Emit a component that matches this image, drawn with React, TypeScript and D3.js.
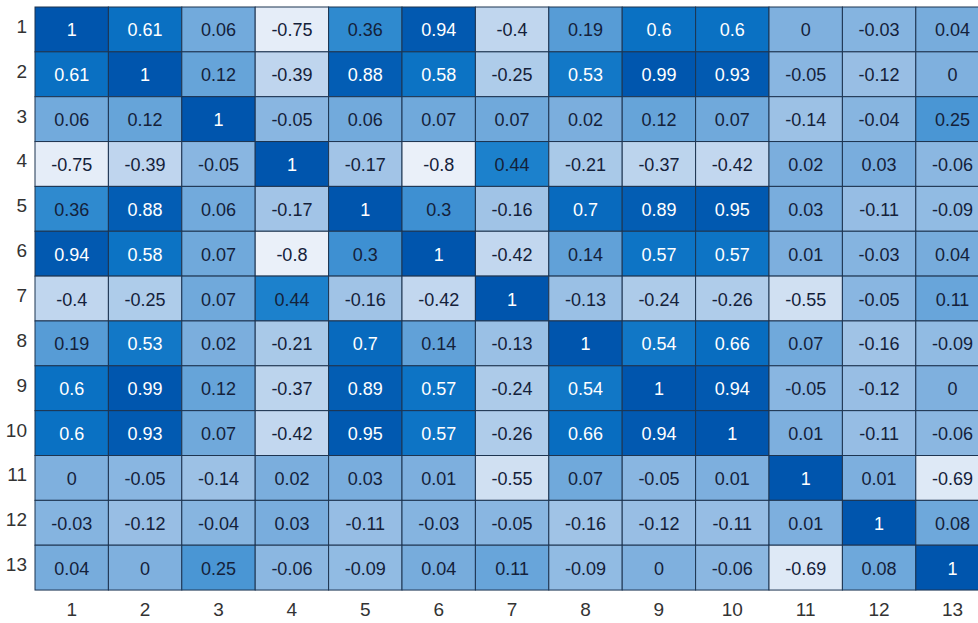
import React from "react";
import * as d3 from "d3";

const labels = ["1", "2", "3", "4", "5", "6", "7", "8", "9", "10", "11", "12", "13"];

const r1 = [1, 0.61, 0.06, -0.75, 0.36, 0.94, -0.4, 0.19, 0.6, 0.6, 0, -0.03, 0.04];
const r2 = [0.61, 1, 0.12, -0.39, 0.88, 0.58, -0.25, 0.53, 0.99, 0.93, -0.05, -0.12, 0];
const r3 = [0.06, 0.12, 1, -0.05, 0.06, 0.07, 0.07, 0.02, 0.12, 0.07, -0.14, -0.04, 0.25];
const r4 = [-0.75, -0.39, -0.05, 1, -0.17, -0.8, 0.44, -0.21, -0.37, -0.42, 0.02, 0.03, -0.06];
const r5 = [0.36, 0.88, 0.06, -0.17, 1, 0.3, -0.16, 0.7, 0.89, 0.95, 0.03, -0.11, -0.09];
const r6 = [0.94, 0.58, 0.07, -0.8, 0.3, 1, -0.42, 0.14, 0.57, 0.57, 0.01, -0.03, 0.04];
const r7 = [-0.4, -0.25, 0.07, 0.44, -0.16, -0.42, 1, -0.13, -0.24, -0.26, -0.55, -0.05, 0.11];
const r8 = [0.19, 0.53, 0.02, -0.21, 0.7, 0.14, -0.13, 1, 0.54, 0.66, 0.07, -0.16, -0.09];
const r9 = [0.6, 0.99, 0.12, -0.37, 0.89, 0.57, -0.24, 0.54, 1, 0.94, -0.05, -0.12, 0];
const r10 = [0.6, 0.93, 0.07, -0.42, 0.95, 0.57, -0.26, 0.66, 0.94, 1, 0.01, -0.11, -0.06];
const r11 = [0, -0.05, -0.14, 0.02, 0.03, 0.01, -0.55, 0.07, -0.05, 0.01, 1, 0.01, -0.69];
const r12 = [-0.03, -0.12, -0.04, 0.03, -0.11, -0.03, -0.05, -0.16, -0.12, -0.11, 0.01, 1, 0.08];
const r13 = [0.04, 0, 0.25, -0.06, -0.09, 0.04, 0.11, -0.09, 0, -0.06, -0.69, 0.08, 1];

const matrix = [r1, r2, r3, r4, r5, r6, r7, r8, r9, r10, r11, r12, r13];

const colorStops = [-0.8, -0.4, -0.2, 0, 0.25, 0.44, 0.6, 1];
const colorValues = ["#eaf0f9", "#c0d6ee", "#a8c8e8", "#7fb0de", "#4a96d4", "#1c81cc", "#0a71c3", "#0055ad"];

export default function App() {
  const width = 978;
  const height = 623;
  const margin = { top: 7, left: 35 };
  const cellW = 73.4;
  const cellH = 44.85;

  const x = d3.scaleBand<string>()
    .domain(labels)
    .range([margin.left, margin.left + cellW * labels.length])
    .padding(0);
  const y = d3.scaleBand<string>()
    .domain(labels)
    .range([margin.top, margin.top + cellH * labels.length])
    .padding(0);

  const color = d3.scaleLinear<string>()
    .domain(colorStops)
    .range(colorValues)
    .clamp(true);

  const cells = matrix.flatMap((row, i) =>
    row.map((v, j) => ({ r: labels[i], c: labels[j], v }))
  );

  const bottom = margin.top + cellH * labels.length;

  return (
    <svg width={width} height={height} style={{ position: "absolute", left: 0, top: 0 }}
      fontFamily="Liberation Sans, Arial, sans-serif">
      <rect width={width} height={height} fill="#fff" />
      {cells.map((d) => (
        <rect key={d.r + "-" + d.c}
          x={x(d.c)} y={y(d.r)}
          width={x.bandwidth()} height={y.bandwidth()}
          fill={color(d.v)} stroke="#1d3450" strokeWidth={1} />
      ))}
      {cells.map((d) => (
        <text key={"t" + d.r + "-" + d.c}
          x={(x(d.c) ?? 0) + x.bandwidth() / 2}
          y={(y(d.r) ?? 0) + y.bandwidth() / 2 + 1}
          textAnchor="middle" dominantBaseline="central"
          fontSize={18}
          fill={d.v > 0.5 ? "#ffffff" : "#14213a"}>
          {String(d.v)}
        </text>
      ))}
      {labels.map((l) => (
        <text key={"row" + l} x={margin.left - 8} y={(y(l) ?? 0) + y.bandwidth() / 2 - 3}
          textAnchor="end" dominantBaseline="central" fontSize={19} fill="#333">
          {l}
        </text>
      ))}
      {labels.map((l) => (
        <text key={"col" + l} x={(x(l) ?? 0) + x.bandwidth() / 2} y={bottom + 19}
          textAnchor="middle" dominantBaseline="central" fontSize={19} fill="#333">
          {l}
        </text>
      ))}
    </svg>
  );
}
